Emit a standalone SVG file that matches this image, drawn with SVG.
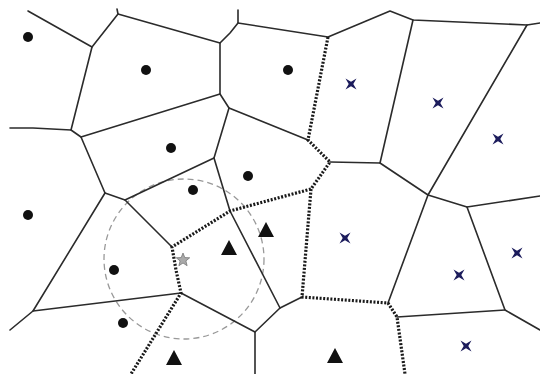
<svg xmlns="http://www.w3.org/2000/svg" width="540" height="374" viewBox="0 0 540 374">
<style>
.e{fill:none;stroke:#2b2b2b;stroke-width:1.6;stroke-linecap:round;stroke-linejoin:round}
.d{fill:none;stroke:#1a1a1a;stroke-width:3.2;stroke-dasharray:2 1.6}
.c{fill:#111}
.t{fill:#111}
.x{fill:#1c1c5c}
</style>
<defs>
<path id="cross" d="M-5.5,-5.5 L0,-2.3 L5.5,-5.5 L2.3,0 L5.5,5.5 L0,2.3 L-5.5,5.5 L-2.3,0 Z"/>
<path id="tri" d="M0,-8 L8,7 L-8,7 Z"/>
</defs>
<rect width="540" height="374" fill="#fff"/>
<circle cx="184" cy="259" r="80" fill="none" stroke="#999" stroke-width="1.3" stroke-dasharray="6 4"/>
<g id="connectors">
<path class="e" d="M28,11 L92,47 L118,14 L117,9"/>
<path class="e" d="M118,14 L220,43 L230,33 L238,23 L238,10"/>
<path class="e" d="M238,23 L328,37 L390,11 L413,20 L527,25 L540,23"/>
<path class="e" d="M220,43 L220,94 L81,137"/>
<path class="e" d="M92,47 L71,130 L33,128 L10,128"/>
<path class="e" d="M71,130 L81,137 L105,193 L125,200 L214,158 L229,108 L220,94"/>
<path class="e" d="M229,108 L308,140"/>
<path class="e" d="M125,200 L172,247"/>
<path class="e" d="M105,193 L33,311 L10,330"/>
<path class="e" d="M33,311 L181,293 L255,332 L255,374"/>
<path class="e" d="M214,158 L230,211 L280,308 L302,297"/>
<path class="e" d="M280,308 L255,332"/>
<path class="e" d="M413,20 L380,163 L330,162"/>
<path class="e" d="M380,163 L428,195 L527,25"/>
<path class="e" d="M428,195 L467,207 L540,196"/>
<path class="e" d="M467,207 L505,310 L540,330"/>
<path class="e" d="M505,310 L397,317"/>
<path class="e" d="M428,195 L388,303"/>
<path class="d" d="M328,37 L308,140 L330,162 L311,189 L230,211 L172,247 L176,270 L181,293 L131,374"/>
<path class="d" d="M311,189 L302,297 L388,303 L397,317 L405,374"/>
</g>
<g id="circles">
<circle class="c" cx="28" cy="37" r="5"/>
<circle class="c" cx="146" cy="70" r="5"/>
<circle class="c" cx="171" cy="148" r="5"/>
<circle class="c" cx="248" cy="176" r="5"/>
<circle class="c" cx="193" cy="190" r="5"/>
<circle class="c" cx="288" cy="70" r="5"/>
<circle class="c" cx="28" cy="215" r="5"/>
<circle class="c" cx="114" cy="270" r="5"/>
<circle class="c" cx="123" cy="323" r="5"/>
</g>
<g id="triangles">
<use href="#tri" class="t" x="229" y="248"/>
<use href="#tri" class="t" x="266" y="230"/>
<use href="#tri" class="t" x="174" y="358"/>
<use href="#tri" class="t" x="335" y="356"/>
</g>
<g id="crosses">
<use href="#cross" class="x" x="351" y="84"/>
<use href="#cross" class="x" x="438" y="103"/>
<use href="#cross" class="x" x="498" y="139"/>
<use href="#cross" class="x" x="345" y="238"/>
<use href="#cross" class="x" x="459" y="275"/>
<use href="#cross" class="x" x="517" y="253"/>
<use href="#cross" class="x" x="466" y="346"/>
</g>
<g id="star">
<path d="M183,253 L184.8,257.6 L189.7,257.8 L185.9,260.9 L187.1,265.7 L183,263 L178.9,265.7 L180.1,260.9 L176.3,257.8 L181.2,257.6 Z" fill="#aaa" stroke="#777" stroke-width="0.8"/>
</g>
</svg>
